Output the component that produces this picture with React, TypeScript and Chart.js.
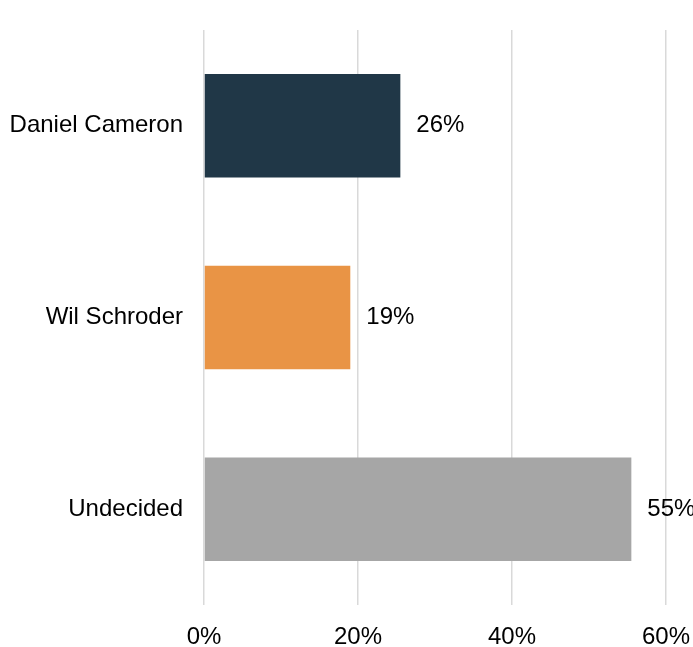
import React, { useEffect, useRef } from "react";
import { Chart, registerables } from "chart.js";

Chart.register(...registerables);

const categories = ["Daniel Cameron", "Wil Schroder", "Undecided"];
const values = [25.5, 19, 55.5];
const valueLabels = ["26%", "19%", "55%"];
const barColors = ["#203747", "#E99445", "#A6A6A6"];
const xTicks = [0, 20, 40, 60];

const FONT = "'Liberation Sans', Arial, sans-serif";
const TEXT_COLOR = "#000000";

const valueLabelPlugin = {
  id: "valueLabels",
  afterDatasetsDraw(chart: any) {
    const { ctx } = chart;
    const meta = chart.getDatasetMeta(0);
    ctx.save();
    ctx.font = `24px ${FONT}`;
    ctx.fillStyle = TEXT_COLOR;
    ctx.textAlign = "left";
    ctx.textBaseline = "middle";
    meta.data.forEach((bar: any, i: number) => {
      ctx.fillText(valueLabels[i], bar.x + 16, bar.y);
    });
    ctx.restore();
  },
};

export default function App() {
  const canvasRef = useRef<HTMLCanvasElement | null>(null);

  useEffect(() => {
    if (!canvasRef.current) return;
    const chart = new Chart(canvasRef.current, {
      type: "bar",
      data: {
        labels: categories,
        datasets: [
          {
            data: values,
            backgroundColor: barColors,
            borderWidth: 0,
            categoryPercentage: 1,
            barPercentage: 0.54,
          },
        ],
      },
      options: {
        indexAxis: "y",
        animation: false,
        responsive: true,
        maintainAspectRatio: false,
        layout: { padding: { top: 30, right: 27, left: 0, bottom: 0 } },
        plugins: {
          legend: { display: false },
          tooltip: { enabled: false },
        },
        scales: {
          x: {
            min: 0,
            max: 60,
            afterBuildTicks: (axis: any) => {
              axis.ticks = xTicks.map((v) => ({ value: v }));
            },
            afterFit: (axis: any) => {
              axis.height = 42;
              axis.paddingLeft = 0;
              axis.paddingRight = 0;
            },
            grid: {
              color: "#d9d9d9",
              lineWidth: 1.5,
              drawTicks: false,
            },
            border: { display: false },
            ticks: {
              padding: 18,
              color: TEXT_COLOR,
              font: { family: FONT, size: 24 },
              callback: (v: any) => `${v}%`,
            },
          },
          y: {
            afterFit: (axis: any) => {
              axis.width = 204;
              axis.paddingTop = 0;
              axis.paddingBottom = 0;
            },
            grid: { display: false, drawTicks: false },
            border: { display: false },
            ticks: {
              padding: 21,
              color: TEXT_COLOR,
              font: { family: FONT, size: 24 },
            },
          },
        },
      },
      plugins: [valueLabelPlugin],
    });
    return () => chart.destroy();
  }, []);

  return (
    <div
      style={{
        position: "fixed",
        left: 0,
        top: 0,
        width: 693,
        height: 647,
        background: "#ffffff",
      }}
    >
      <canvas ref={canvasRef} />
    </div>
  );
}
